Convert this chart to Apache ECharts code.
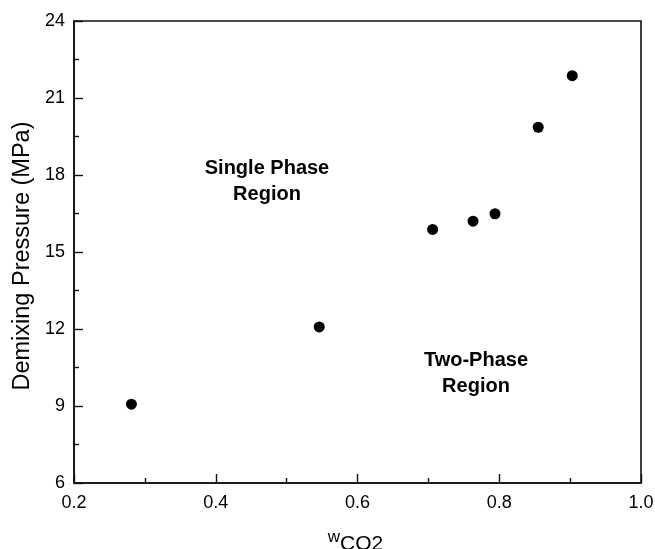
<!DOCTYPE html>
<html>
<head>
<meta charset="utf-8">
<script src="https://cdn.jsdelivr.net/npm/echarts@6/dist/echarts.min.js"></script>
<style>
  html, body { margin: 0; padding: 0; background: #fff; }
  #chart { width: 655px; height: 549px; }
</style>
</head>
<body>
<div id="chart"></div>
<script>
  // demixing pressure vs CO2 weight fraction
  const wCO2 = [0.281, 0.546, 0.706, 0.763, 0.794, 0.855, 0.903];
  const pressure = [9.07, 12.08, 15.88, 16.20, 16.49, 19.86, 21.87];
  const xTicks = [0.2, 0.4, 0.6, 0.8, 1.0];
  const yTicks = [6, 9, 12, 15, 18, 21, 24];

  const font = 'Liberation Sans, Arial, sans-serif';
  const chart = echarts.init(document.getElementById('chart'));

  let points = [];
  for (let i = 0; i < wCO2.length; i++) {
    points.push([wCO2[i], pressure[i]]);
  }

  const axisLine = {lineStyle: {color: '#111', width: 1.6}};

  const options = {
    backgroundColor: '#fff',
    animation: false,
    grid: {
      left: 74, right: 14, top: 21, bottom: 66,
      outerBoundsMode: 'none',
      containLabel: false,
      show: true,
      borderColor: '#111',
      borderWidth: 1.6
    },
    xAxis: {
      type: 'value',
      min: xTicks[0],
      max: xTicks[xTicks.length - 1],
      interval: 0.2,
      axisLine: axisLine,
      axisTick: {inside: true, length: 9, lineStyle: {color: '#111', width: 1.4}},
      minorTick: {show: true, splitNumber: 2, length: 5, lineStyle: {color: '#111', width: 1.4}},
      splitLine: {show: false},
      axisLabel: {
        color: '#000', fontFamily: font, fontSize: 18, margin: 11,
        formatter: v => v.toFixed(1)
      },
      name: '{w|w}{s|CO2}',
      nameLocation: 'middle',
      nameGap: 46,
      nameTextStyle: {
        padding: [0, 4, 0, 0],
        rich: {
          w: {fontFamily: font, fontSize: 17, color: '#000', verticalAlign: 'top', lineHeight: 26},
          s: {fontFamily: font, fontSize: 21, color: '#000', verticalAlign: 'bottom', lineHeight: 26, padding: [14, 0, 0, 0]}
        }
      }
    },
    yAxis: {
      type: 'value',
      min: yTicks[0],
      max: yTicks[yTicks.length - 1],
      interval: 3,
      axisLine: axisLine,
      axisTick: {inside: true, length: 9, lineStyle: {color: '#111', width: 1.4}},
      minorTick: {show: true, splitNumber: 2, length: 5, lineStyle: {color: '#111', width: 1.4}},
      splitLine: {show: false},
      axisLabel: {color: '#000', fontFamily: font, fontSize: 18, margin: 9},
      name: 'Demixing Pressure (MPa)',
      nameLocation: 'middle',
      nameGap: 39,
      nameTextStyle: {color: '#000', fontFamily: font, fontSize: 23.5, padding: [0, 8, 0, 0]}
    },
    series: [{
      type: 'scatter',
      data: points,
      symbol: 'circle',
      symbolSize: 11,
      itemStyle: {color: '#000', opacity: 1}
    }],
    graphic: [
      {
        type: 'text', x: 267, y: 155,
        style: {
          text: 'Single Phase\nRegion', textAlign: 'center', textVerticalAlign: 'top',
          font: 'bold 20px ' + font, fill: '#000', lineHeight: 26
        }
      },
      {
        type: 'text', x: 476, y: 347,
        style: {
          text: 'Two-Phase\nRegion', textAlign: 'center', textVerticalAlign: 'top',
          font: 'bold 20px ' + font, fill: '#000', lineHeight: 26
        }
      }
    ]
  };
  chart.setOption(options);
</script>
</body>
</html>
